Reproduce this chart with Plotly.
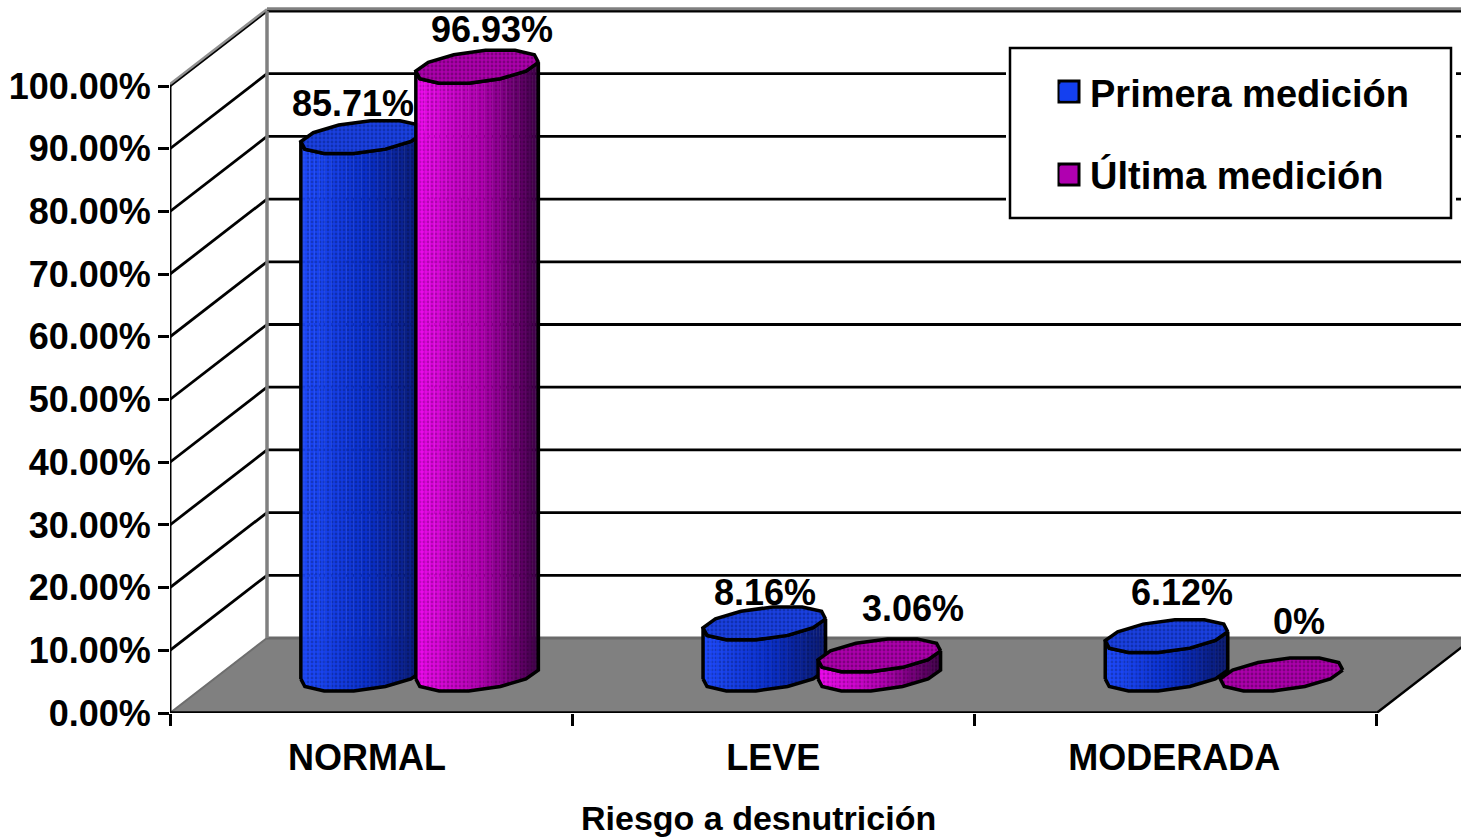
import numpy as np
import plotly.graph_objects as go

categories = ["NORMAL", "LEVE", "MODERADA"]
primera = [85.71, 8.16, 6.12]
ultima = [96.93, 3.06, 0]
primera_labels = ["85.71%", "8.16%", "6.12%"]
ultima_labels = ["96.93%", "3.06%", "0%"]
y_ticks = [0, 10, 20, 30, 40, 50, 60, 70, 80, 90, 100]
y_tick_labels = [f"{v}.00%" for v in y_ticks]

W, H = 1461, 839
ML, MB = 170, 126
PX_X = 402.2           # pixels per category
PX_Y = 6.27            # pixels per percentage point
DX, DY = 97 / PX_X, 75 / PX_Y   # depth of the 3D box
BASE = 6.14            # height of the cylinder base centre above the front edge
XR = (W - ML) / PX_X
YR = (H - MB) / PX_Y
FONT = "Liberation Sans"
BLACK = "#000000"

T = np.deg2rad(np.arange(15, 375, 30))
EX = (57 * np.cos(T) + 24 * np.sin(T)) / PX_X
EY = 17 * np.sin(T) / PX_Y
FRONT = [6, 7, 8, 9, 10, 11, 0]   # lower arc, left to right

fig = go.Figure()


def poly(x, y, **kw):
    fig.add_trace(go.Scatter(x=list(x), y=list(y), mode="lines", hoverinfo="skip",
                             showlegend=False, **kw))


# floor and box
poly([0, 3, 3 + DX, DX, 0], [0, 0, DY, DY, 0], fill="toself", fillcolor="#808080",
     line=dict(color="#808080", width=1))
poly([DX, XR], [DY, DY], line=dict(color="#6a6a6a", width=3))
poly([0, DX], [0, DY], line=dict(color="#6e6e6e", width=2))
poly([3, 3 + DX], [0, DY], line=dict(color=BLACK, width=2.5))

# back-wall grid and oblique side-wall lines
for v in y_ticks[1:]:
    poly([DX, XR], [v + DY, v + DY], line=dict(color=BLACK, width=2.8))
    poly([0, DX], [v, v + DY], line=dict(color=BLACK, width=2.8))
poly([DX, XR], [100 + DY + 0.35, 100 + DY + 0.35], line=dict(color="#808080", width=3))
poly([0, DX], [100 + 0.3, 100 + DY + 0.3], line=dict(color="#909090", width=2.5))
poly([DX, DX], [DY, 100 + DY], line=dict(color="#808080", width=3.5))

# front axes
poly([0, 0], [0, 100], line=dict(color=BLACK, width=3))
poly([0, 3], [0, 0], line=dict(color=BLACK, width=3.5))


def lerp(a, b, f):
    return tuple(int(round(p + (q - p) * f)) for p, q in zip(a, b))


def shade(stops, f):
    if f < 0.55:
        return lerp(stops[0], stops[1], f / 0.55)
    return lerp(stops[1], stops[2], (f - 0.55) / 0.45)


def cylinder(cx, value, stops, top_fg, top_bg):
    top = BASE + value
    xs = cx + EX[FRONT]
    low = BASE + EY[FRONT]
    high = top + EY[FRONT]
    x0, x1 = xs[0], xs[-1]
    if value > 0:
        for k in range(len(FRONT) - 1):
            for j in range(4):
                a, b = j / 4, (j + 1) / 4
                xa, xb = xs[k] + (xs[k + 1] - xs[k]) * a, xs[k] + (xs[k + 1] - xs[k]) * b
                la, lb = low[k] + (low[k + 1] - low[k]) * a, low[k] + (low[k + 1] - low[k]) * b
                ha, hb = high[k] + (high[k + 1] - high[k]) * a, high[k] + (high[k + 1] - high[k]) * b
                c = shade(stops, ((xa + xb) / 2 - x0) / (x1 - x0))
                bg = "rgb(%d,%d,%d)" % c
                fg = "rgb(%d,%d,%d)" % lerp(c, (0, 0, 0), 0.45)
                poly([xa, xb, xb, xa, xa], [la, lb, hb, ha, la], fill="toself",
                     line=dict(color=bg, width=0.5),
                     fillpattern=dict(shape=".", size=4, solidity=0.4, fgcolor=fg, bgcolor=bg))
        poly(list(xs) + list(xs[::-1]) + [xs[0]], list(low) + list(high[::-1]) + [low[0]],
             line=dict(color=BLACK, width=3.5))
    ex = np.append(cx + EX, cx + EX[0])
    ey = np.append(top + EY, top + EY[0])
    poly(ex, ey, fill="toself", line=dict(color=BLACK, width=3.5),
         fillpattern=dict(shape=".", size=4, solidity=0.4, fgcolor=top_fg, bgcolor=top_bg))


BLUE = [(30, 75, 255), (10, 48, 205), (10, 25, 110)]
PURPLE = [(240, 10, 240), (175, 0, 175), (60, 0, 70)]
SEP = 57.5 / PX_X
for i in range(len(categories)):
    centre = i + 0.5 + DX / 2
    cylinder(centre - SEP, primera[i], BLUE, "#06207f", "#1a40e0")
    cylinder(centre + SEP, ultima[i], PURPLE, "#4e004e", "#ac00ac")

# legend entries
fig.add_trace(go.Scatter(x=[None], y=[None], mode="markers", name="Primera medición",
                         legendgroup="a",
                         marker=dict(symbol="square", size=16, color="#1440f0",
                                     line=dict(color="#1440f0", width=1))))
fig.add_trace(go.Scatter(x=[None], y=[None], mode="markers", name="Última medición",
                         legendgroup="b",
                         marker=dict(symbol="square", size=16, color="#b000b0",
                                     line=dict(color="#b000b0", width=1))))


def px_x(p):
    return (p - ML) / PX_X


def px_y(p):
    return (H - MB - p) / PX_Y


shapes = [
    dict(type="rect", layer="above", x0=px_x(1006), x1=px_x(1456), y0=px_y(44), y1=px_y(222),
         fillcolor="white", line=dict(width=0)),
    dict(type="rect", layer="above", x0=px_x(1010), x1=px_x(1451), y0=px_y(48), y1=px_y(218),
         fillcolor="white", line=dict(color=BLACK, width=2.5)),
    dict(type="rect", layer="above", x0=px_x(1059), x1=px_x(1079), y0=px_y(81), y1=px_y(102),
         fillcolor="#1440f0", line=dict(color=BLACK, width=3)),
    dict(type="rect", layer="above", x0=px_x(1059), x1=px_x(1079), y0=px_y(164), y1=px_y(185),
         fillcolor="#b000b0", line=dict(color=BLACK, width=3)),
]

label_font = dict(family=FONT, size=36, color=BLACK, weight=700)
title_font = dict(family=FONT, size=34, color=BLACK, weight=700)
offsets_a = [(-9, 34), (1, 31), (15, 44)]
offsets_b = [(15, 37), (34, 47), (17, 53)]
annotations = []
for i in range(len(categories)):
    centre = i + 0.5 + DX / 2
    for cx, v, txt, (sx, sy) in (
        (centre - SEP, primera[i], primera_labels[i], offsets_a[i]),
        (centre + SEP, ultima[i], ultima_labels[i], offsets_b[i]),
    ):
        annotations.append(dict(x=cx, y=BASE + v, text=txt, showarrow=False, xanchor="center",
                                yanchor="middle", xshift=sx, yshift=sy, font=label_font))
annotations.append(dict(xref="paper", yref="paper",
                        x=(758 - ML) / (W - ML), y=-(818 - (H - MB)) / (H - MB),
                        text="Riesgo a desnutrición", showarrow=False,
                        xanchor="center", yanchor="middle", font=title_font))

fig.update_layout(
    width=W, height=H, autosize=False,
    margin=dict(l=ML, r=0, t=0, b=MB, pad=0),
    paper_bgcolor="white", plot_bgcolor="white",
    font=dict(family=FONT, color=BLACK),
    shapes=shapes, annotations=annotations,
    hovermode=False,
    legend=dict(x=(1046 - ML) / (W - ML), y=1 - 61 / (H - MB), xanchor="left", yanchor="top",
                bgcolor="rgba(0,0,0,0)", borderwidth=0, tracegroupgap=30, itemwidth=34,
                itemclick=False, itemdoubleclick=False,
                font=dict(family=FONT, size=38, color=BLACK, weight=700)),
    xaxis=dict(range=[0, XR], showgrid=False, zeroline=False, showline=False,
               tickmode="array", tickvals=[0.49, 1.5, 2.497],
               ticktext=categories, ticks="", ticklabelstandoff=20,
               tickfont=label_font,
               minor=dict(tickmode="array", tickvals=[0, 1, 2, 3], ticks="outside", ticklen=12,
                          tickwidth=3, tickcolor=BLACK, showgrid=False)),
    yaxis=dict(range=[0, YR], showgrid=False, zeroline=False, showline=False,
               tickmode="array", tickvals=y_ticks, ticktext=y_tick_labels, ticks="outside",
               ticklen=11, tickwidth=3, tickcolor=BLACK, tickfont=label_font),
)

fig.write_html("out.html", post_script="document.body.style.margin='0';document.body.style.overflow='hidden';",
               config=dict(displayModeBar=False))
